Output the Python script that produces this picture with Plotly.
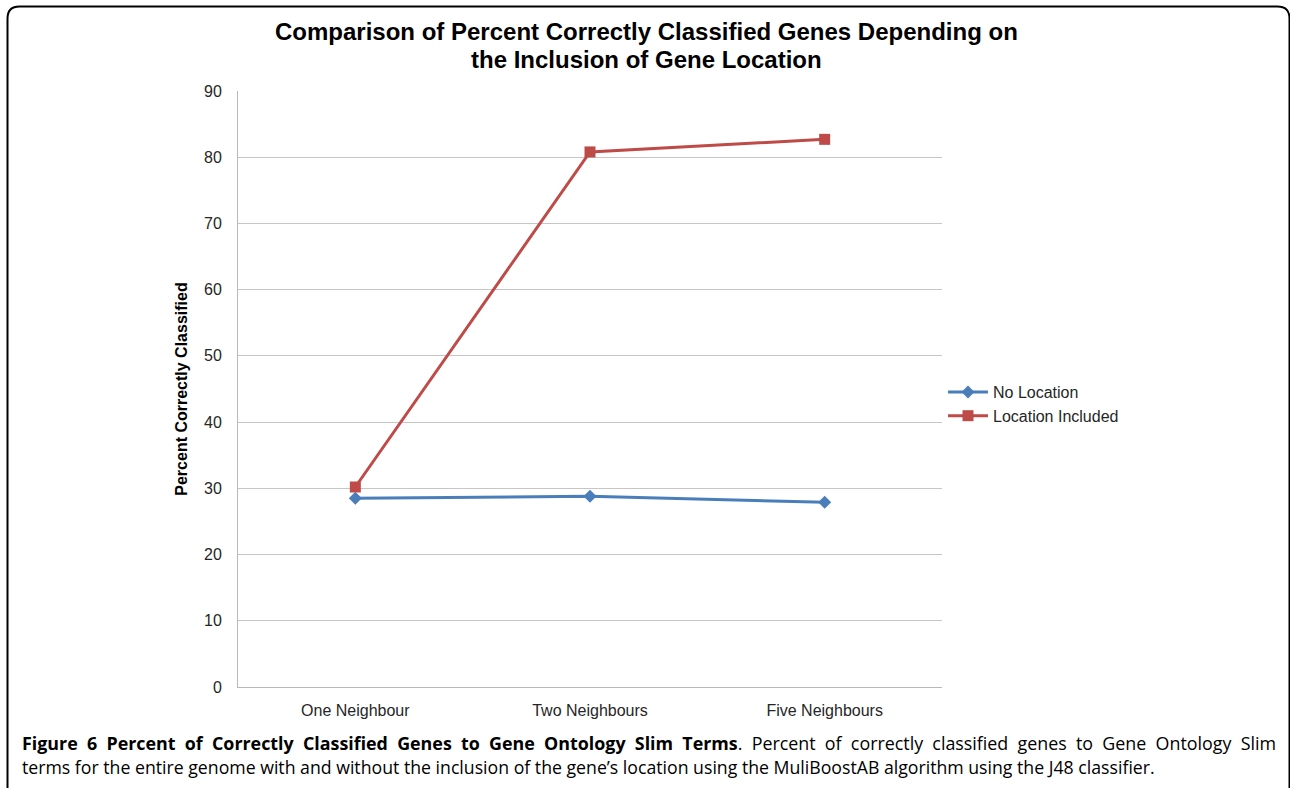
import plotly.graph_objects as go

categories = ["One Neighbour", "Two Neighbours", "Five Neighbours"]
no_location = [28.5, 28.8, 27.9]
location_included = [30.2, 80.8, 82.7]
y_ticks = [0, 10, 20, 30, 40, 50, 60, 70, 80, 90]

W, H = 1290, 788
L, R, T, B = 238, 942, 91, 687

def px(x):
    return (x - L) / (R - L)

def py(y):
    return (B - y) / (B - T)

fig = go.Figure()
fig.add_trace(go.Scatter(
    x=categories, y=no_location, name="No Location", mode="lines+markers",
    line=dict(color="#4a7ebb", width=3),
    marker=dict(symbol="diamond", size=10, color="#4a7ebb"),
))
fig.add_trace(go.Scatter(
    x=categories, y=location_included, name="Location Included", mode="lines+markers",
    line=dict(color="#be4b48", width=3),
    marker=dict(symbol="square", size=11, color="#be4b48"),
))

# rounded border
x0, x1, y0, y1 = px(7.5), px(1289.5), py(6.5), py(820)
rx, ry = 12 / (R - L), 12 / (B - T)
path = (f"M {x0},{y1} L {x0},{y0 - ry} Q {x0},{y0} {x0 + rx},{y0} "
        f"L {x1 - rx},{y0} Q {x1},{y0} {x1},{y0 - ry} L {x1},{y1}")
fig.add_shape(type="path", path=path, xref="paper", yref="paper",
              line=dict(color="black", width=2))

fig.update_layout(
    width=W, height=H,
    margin=dict(l=L, r=W - R, t=T, b=H - B),
    paper_bgcolor="white", plot_bgcolor="white",
    font=dict(family="Liberation Sans, Arial", color="#262626", size=16),
    xaxis=dict(
        type="category", range=[-0.5, 2.5], showgrid=False,
        showline=True, linecolor="#b8b8b8", linewidth=1,
        ticks="outside", ticklen=9, tickcolor="rgba(0,0,0,0)",
        tickfont=dict(size=16, color="#262626"),
    ),
    yaxis=dict(
        range=[0, 90], tickvals=y_ticks, showgrid=True, gridcolor="#c6c6c6", gridwidth=1,
        showline=True, linecolor="#b8b8b8", linewidth=1, zeroline=False,
        ticks="outside", ticklen=12, tickcolor="rgba(0,0,0,0)",
        tickfont=dict(size=16, color="#262626"),
        title=dict(text="<b>Percent Correctly Classified</b>", font=dict(size=16, color="black"), standoff=12),
    ),
    legend=dict(
        x=px(943), y=py(375), xanchor="left", yanchor="top",
        font=dict(size=16, color="#262626"), bgcolor="rgba(0,0,0,0)",
        itemwidth=40,
    ),
    showlegend=True,
)

for txt, yy in [("Comparison of Percent Correctly Classified Genes Depending on", 31),
                ("the Inclusion of Gene Location", 59)]:
    fig.add_annotation(text=f"<b>{txt}</b>", xref="paper", yref="paper", x=px(646), y=py(yy),
                       xanchor="center", yanchor="middle", showarrow=False,
                       font=dict(family="Liberation Sans, Arial", size=24, color="black"))

sp = "\u00a0 "
cap1 = ("<b>Figure" + sp + "6" + sp + "Percent" + sp + "of" + sp + "Correctly" + sp + "Classified" + sp +
        "Genes" + sp + "to" + sp + "Gene" + sp + "Ontology" + sp + "Slim" + sp + "Terms</b>." + sp +
        "Percent" + sp + "of" + sp + "correctly" + sp + "classified" + sp + "genes" + sp + "to" + sp +
        "Gene" + sp + "Ontology" + sp + "Slim")
cap2 = ("terms for the entire genome with and without the inclusion of the gene\u2019s location "
        "using the MuliBoostAB algorithm using the J48 classifier.")
for txt, yy, sz in [(cap1, 743, 17.85), (cap2, 767, 17.7)]:
    fig.add_annotation(text=txt, xref="paper", yref="paper", x=px(20), y=py(yy),
                       xanchor="left", yanchor="middle", showarrow=False,
                       font=dict(family="Open Sans", size=sz, color="black"))

fig.write_html("out.html", config={"displayModeBar": False},
               post_script="document.body.style.margin='0';document.body.style.overflow='hidden';")
